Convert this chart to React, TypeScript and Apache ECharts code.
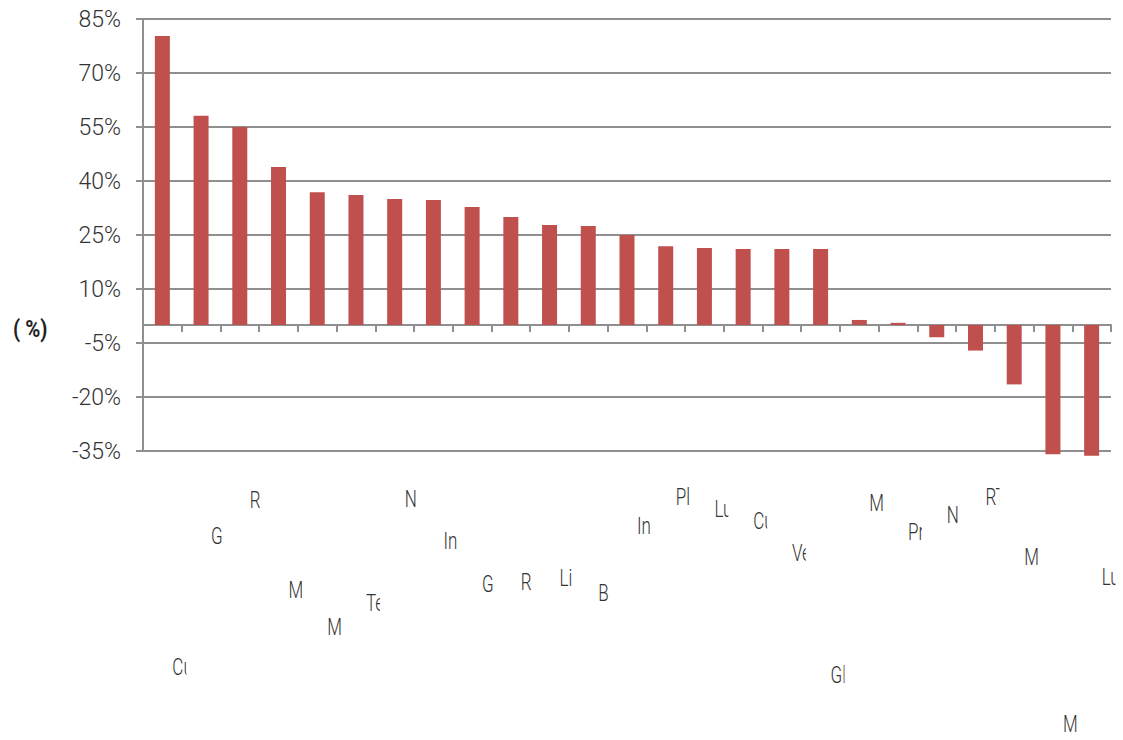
import React, { useEffect, useRef } from 'react';
import * as echarts from 'echarts';

// Category names (only their leading letters fit under each bar)
const categories = ['Cu', 'G', 'R', 'M', 'M', 'Te', 'N', 'In', 'G', 'R', 'Li', 'B', 'In', 'Pl', 'Lu', 'Cu', 'Ve', 'Gl', 'M', 'Pr', 'N', 'RT', 'M', 'M', 'Lu'];

// Change, in percent
const values = [80.3, 58.1, 55.0, 43.9, 36.9, 36.1, 35.0, 34.7, 32.8, 30.0, 27.8, 27.5, 25.0, 21.9, 21.4, 21.1, 21.1, 21.1, 1.4, 0.6, -3.4, -7.1, -16.5, -35.9, -36.3];

// Y axis tick values
const yTicks = [-35, -20, -5, 10, 25, 40, 55, 70, 85];

// Layout: how far below the plot's bottom edge each category label sits (px)
const labelDrop = [216, 85, 49, 139, 176, 152, 48, 90, 133, 131, 127, 142, 75, 46, 58, 70, 102, 224, 52, 81, 64, 46, 106, 273, 126];

const FONT = "Roboto, 'DejaVu Sans', sans-serif";
const GRAY = '#8f8f8f';
const INK = '#333333';
const BAR = '#C0504D';

export default function App() {
  const ref = useRef<HTMLDivElement>(null);

  useEffect(() => {
    const chart = echarts.init(ref.current!, null, { renderer: 'svg' });

    chart.setOption({
      animation: false,
      grid: { left: 143, right: 12, top: 19, bottom: 289, containLabel: false, outerBoundsMode: 'none' },
      xAxis: {
        type: 'category',
        data: categories,
        axisLine: { onZero: true, lineStyle: { color: GRAY, width: 2 } },
        axisTick: { show: true, length: 7, lineStyle: { color: GRAY, width: 2 } },
        axisLabel: { show: false },
        splitLine: { show: false },
      },
      yAxis: {
        type: 'value',
        min: yTicks[0],
        max: yTicks[yTicks.length - 1],
        axisLine: { show: true, lineStyle: { color: GRAY, width: 2 } },
        axisTick: { show: true, length: 7, customValues: yTicks, lineStyle: { color: GRAY, width: 2 } },
        axisLabel: {
          customValues: yTicks,
          formatter: '{value}%',
          fontSize: 23,
          fontWeight: 300,
          fontFamily: FONT,
          color: INK,
          margin: 22,
        },
        splitLine: { show: true, lineStyle: { color: GRAY, width: 2 } },
      },
      series: [
        {
          type: 'bar',
          data: values,
          barWidth: 15,
          clip: false,
          itemStyle: { color: BAR },
        },
      ],
    });

    // Category names in narrow cells below the plot, cut off just past each cell
    const plotBottom = chart.convertToPixel({ yAxisIndex: 0 }, yTicks[0]) as number;
    const names: any[] = [];
    const masks: any[] = [];
    categories.forEach((name, i) => {
      const cx = chart.convertToPixel({ xAxisIndex: 0 }, i) as number;
      names.push({
        type: 'text',
        x: cx + 10,
        y: plotBottom + labelDrop[i],
        scaleX: 0.74,
        z: 50,
        silent: true,
        style: {
          text: name,
          font: `300 23px ${FONT}`,
          lineHeight: 20,
          fill: INK,
          align: 'left',
          verticalAlign: 'middle',
        },
      });
      masks.push({
        type: 'rect',
        z: 100,
        silent: true,
        shape: { x: cx + 24, y: plotBottom + 12, width: 22, height: 740 - plotBottom - 12 },
        style: { fill: '#ffffff' },
      });
    });

    chart.setOption({
      graphic: [
        ...names,
        ...masks,
        {
          type: 'text',
          x: 13,
          y: 328,
          scaleX: 0.85,
          style: { text: '( %)', font: `bold 24px ${FONT}`, fill: '#222', verticalAlign: 'middle' },
        },
      ],
    });

    return () => chart.dispose();
  }, []);

  return (
    <div
      ref={ref}
      style={{ position: 'fixed', left: 0, top: 0, width: 1123, height: 740, background: '#fff' }}
    />
  );
}
